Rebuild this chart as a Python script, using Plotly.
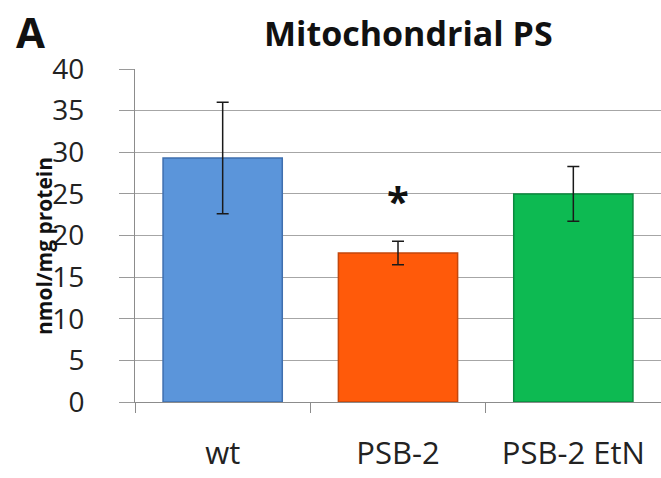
import plotly.graph_objects as go

categories = ["wt", "PSB-2", "PSB-2 EtN"]
values = [29.3, 17.9, 25.0]
errors = [6.7, 1.4, 3.3]
bar_colors = ["#5B95DA", "#FF5A0A", "#0DBA52"]
edge_colors = ["#3F6FAF", "#C4470C", "#0A8A3E"]
tick_vals = [0, 5, 10, 15, 20, 25, 30, 35, 40]
star_value = 24.6

FONT = "Open Sans"

fig = go.Figure()
fig.add_trace(go.Bar(
    x=categories, y=values,
    marker=dict(color=bar_colors, line=dict(color=edge_colors, width=1.5)),
    error_y=dict(type="data", array=errors, visible=True, color="#1a1a1a", thickness=1.5, width=6),
    showlegend=False,
))

fig.add_annotation(x=categories[1], y=star_value, xref="x", yref="y", text="<b>*</b>",
                   showarrow=False, font=dict(family=FONT, size=40, color="#111"),
                   xanchor="center", yanchor="middle", yshift=-3)

fig.add_annotation(x=(30 - 135) / 526, y=(402 - 1) / 333, xref="paper", yref="paper",
                   text="<b>A</b>", showarrow=False, font=dict(family=FONT, size=42, color="#111"),
                   xanchor="center", yanchor="top")
fig.add_annotation(x=(408 - 135) / 526, y=(402 - 33) / 333, xref="paper", yref="paper",
                   text="<b>Mitochondrial PS</b>", showarrow=False, font=dict(family=FONT, size=34, color="#111"),
                   xanchor="center", yanchor="middle")
fig.add_annotation(x=(44 - 135) / 526, y=(402 - 246) / 333, xref="paper", yref="paper",
                   text="<b>nmol/mg protein</b>", textangle=-90, showarrow=False,
                   font=dict(family=FONT, size=21, color="#111"),
                   xanchor="center", yanchor="middle")

fig.update_layout(
    width=661, height=478,
    margin=dict(l=135, r=0, t=69, b=76, autoexpand=False),
    paper_bgcolor="white", plot_bgcolor="white",
    bargap=0.32,
    font=dict(family=FONT, color="#222"),
)
fig.update_xaxes(
    type="category", tickson="boundaries", ticks="outside", ticklen=10, tickcolor="#8c8c8c",
    showline=True, linecolor="#8c8c8c", linewidth=1, showgrid=False, automargin=False,
    tickfont=dict(family=FONT, size=31, color="#222"), ticklabelstandoff=24,
)
fig.update_yaxes(
    range=[0, 40], tickvals=tick_vals, ticks="outside", ticklen=15, tickcolor="#9a9a9a",
    showline=True, linecolor="#8c8c8c", linewidth=1, automargin=False,
    showgrid=True, gridcolor="#a6a6a6", gridwidth=1, zeroline=False,
    tickfont=dict(family=FONT, size=28, color="#222"), ticklabelstandoff=29,
)

fig.write_html("out.html", config={"displayModeBar": False},
               post_script="document.body.style.margin='0px';")
